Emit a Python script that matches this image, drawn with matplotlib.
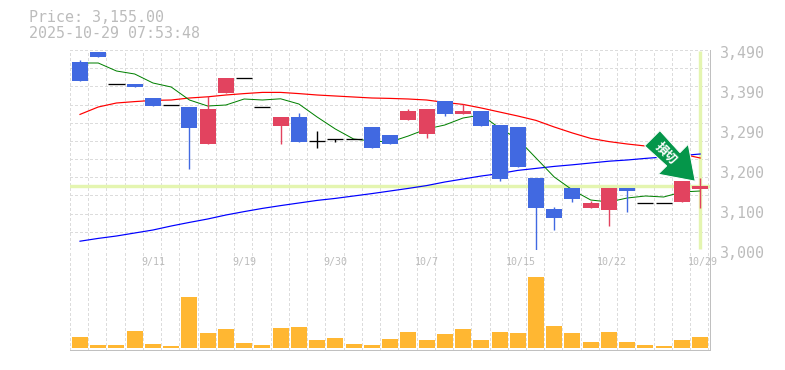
import numpy as np
import matplotlib
matplotlib.use("Agg")
import matplotlib.pyplot as plt
from matplotlib.patches import Polygon
from matplotlib.transforms import Affine2D

# Candles, one per session
opens = [3470, 3495, 3414, 3415, 3380, 3362, 3357.5, 3265, 3392.5, 3429, 3357, 3310,
         3332.5, 3272, 3277, 3277, 3307.5, 3287.5, 3325, 3290, 3372.5, 3340, 3347.5,
         3312.5, 3307.5, 3180, 3102.5, 3155, 3105, 3100, 3155, 3117, 3117, 3120, 3152.5]
closes = [3422.5, 3482.5, 3414, 3407.5, 3360, 3362, 3305, 3352.5, 3430, 3429, 3357, 3332.5,
          3270, 3272, 3277, 3277, 3255, 3265, 3347.5, 3352.5, 3340, 3347.5, 3310,
          3177.5, 3207.5, 3105, 3080, 3127.5, 3117.5, 3155, 3147.5, 3117, 3117, 3172, 3160]
highs = [3475, 3495, 3414, 3415, 3380, 3362, 3357.5, 3385, 3430, 3429, 3357, 3332.5,
         3342.5, 3298, 3277, 3277, 3307.5, 3287.5, 3352.5, 3352.5, 3372.5, 3365, 3347.5,
         3312.5, 3307.5, 3180, 3107.5, 3155, 3122.5, 3155, 3155, 3117, 3117, 3172, 3180]
lows = [3422.5, 3482.5, 3414, 3407.5, 3360, 3362, 3203, 3265, 3392.5, 3429, 3357, 3265,
        3270, 3255, 3270, 3277, 3255, 3265, 3325, 3280, 3335, 3340, 3310,
        3172.5, 3207.5, 3000, 3050, 3120, 3105, 3060, 3095, 3117, 3117, 3120, 3105]

# Moving averages
ma_short = [3467.5, 3467.5, 3447.5, 3440, 3417.5, 3407.5, 3375, 3360, 3362.5, 3377.5, 3375, 3378,
            3365, 3332.5, 3302.5, 3277.5, 3272.5, 3270, 3285, 3302.5, 3312.5, 3330, 3337.5,
            3305, 3277.5, 3230, 3182.5, 3150, 3125, 3120, 3130, 3135, 3132.5, 3145, 3147.5]
ma_mid = [3339, 3357.5, 3367.5, 3371, 3374, 3375, 3380, 3383, 3387.5, 3391, 3394, 3394,
          3391, 3387.5, 3385, 3382.5, 3380, 3379, 3377.5, 3375, 3369, 3364, 3355,
          3345, 3335, 3324, 3307.5, 3292.5, 3279, 3271, 3265, 3260, 3252.5, 3240, 3230]
ma_long = [3022, 3029, 3035, 3042.5, 3050, 3060, 3069, 3077.5, 3087.5, 3096, 3104, 3111,
           3117.5, 3124, 3129, 3135, 3141, 3147.5, 3154, 3161, 3170, 3177.5, 3185,
           3191, 3199, 3204, 3209, 3213, 3217.5, 3222, 3225, 3229, 3232.5, 3236, 3240]

volume = [11, 3, 3, 17, 4, 2, 51, 15, 19, 5, 3, 20, 21, 8, 10, 4, 3, 9,
          16, 8, 14, 19, 8, 16, 15, 71, 22, 15, 6, 16, 6, 3, 2, 8, 11]

date_pos = [4, 9, 14, 19, 24, 29, 34]
date_labels = ["9/11", "9/19", "9/30", "10/7", "10/15", "10/22", "10/29"]
price_ticks = [3000, 3100, 3200, 3300, 3400, 3500]
price_labels = ["3,000", "3,100", "3,200", "3,290", "3,390", "3,490"]
last_price = 3160
title_lines = ["Price: 3,155.00", "2025-10-29 07:53:48"]
arrow_text = "損切"

TXT = "#bcbcbc"
GRID = "#dcdcdc"
FRAME = "#c0c0c0"
MARK = "#e4f5b0"
UP = "#e2435f"
DOWN = "#4169e1"
PX = 0.72  # one pixel in points

fig = plt.figure(figsize=(7.85, 3.7), dpi=100)
ax = fig.add_axes([70 / 785, 120 / 370, 640 / 785, 200 / 370])
vol = fig.add_axes([70 / 785, 20 / 370, 640 / 785, 100 / 370])

x = np.arange(len(closes))
for a in (ax, vol):
    a.set_xlim(-0.548, 34.54)
    a.set_xticks([])
    a.set_yticks([])
    for side in ("top", "left"):
        a.spines[side].set_visible(False)
    for side in ("right", "bottom"):
        a.spines[side].set_color(FRAME)
        a.spines[side].set_linewidth(PX)
    for k in range(36):
        a.axvline(-0.548 + k, color=GRID, lw=0.8 * PX, ls=(0, (3, 3)), zorder=1, antialiased=False)

ax.set_ylim(3000, 3500)
for p in np.linspace(3000, 3500, 12):
    ax.axhline(p, color=GRID, lw=0.8 * PX, ls=(0, (3, 3)), zorder=1, antialiased=False)

# current price / current day markers
ax.axhline(last_price, color=MARK, lw=3.4 * PX, zorder=2)
ax.plot([34, 34], [3003, 3497], color=MARK, lw=3.4 * PX, zorder=2, solid_capstyle="butt")

ax.plot(x, ma_long, color="#0000ff", lw=1.2 * PX, zorder=3)
ax.plot(x, ma_mid, color="#ff0000", lw=1.2 * PX, zorder=3)
ax.plot(x, ma_short, color="#008000", lw=PX, zorder=3)

for i in x:
    o, c = opens[i], closes[i]
    if o == c:
        col = "black"
        ax.hlines(c, i - 0.44, i + 0.44, color=col, lw=1.3 * PX, zorder=4)
    else:
        col = UP if c > o else DOWN
        ax.bar(i, abs(c - o), bottom=min(o, c), width=0.877, color=col, zorder=4, linewidth=0)
    ax.vlines(i, lows[i], highs[i], color=col, lw=1.4 * PX, zorder=4)

# signal arrow, offsets in pixels from its tip
arrow_shape = [(-35.3, 50.6), (-50.6, 35.3), (-28.6, 15.3), (-37, 7), (0, 0), (-7, 37), (-15.3, 28.6)]
tip = ax.transData.transform((33.73, 3172))
arrow = Polygon(arrow_shape, closed=True, facecolor="#05964a", edgecolor="white", lw=PX,
                transform=Affine2D().translate(*tip), zorder=6, clip_on=False)
ax.add_patch(arrow)
ax.annotate(arrow_text, xy=(33.73, 3172), xytext=(-29.3, 27.3), textcoords="offset pixels",
            color="white", fontsize=9, fontweight="bold", rotation=-45, rotation_mode="anchor",
            ha="center", va="center", family=["Noto Sans CJK JP", "DejaVu Sans"], zorder=7)

vol.set_ylim(-2, 98)
vol.bar(x, volume, width=0.877, color="#ffb732", linewidth=0, zorder=2)

for p, lab in zip(price_ticks, price_labels):
    ax.annotate(lab, xy=(1, p), xycoords=("axes fraction", "data"), xytext=(10, -3),
                textcoords="offset pixels", color=TXT, fontsize=10.8,
                family="DejaVu Sans Mono", va="center", ha="left", annotation_clip=False)
for i, lab in zip(date_pos, date_labels):
    vol.annotate(lab, xy=(i, 1), xycoords=("data", "axes fraction"), xytext=(-12, -12),
                 textcoords="offset pixels", color=TXT, fontsize=7.2,
                 family="DejaVu Sans Mono", va="center", ha="left", annotation_clip=False, zorder=5)

fig.text(29 / 785, 1 - 18 / 370, title_lines[0], color=TXT, fontsize=10.8,
         family="DejaVu Sans Mono", va="center", ha="left")
fig.text(29 / 785, 1 - 33 / 370, title_lines[1], color=TXT, fontsize=10.8,
         family="DejaVu Sans Mono", va="center", ha="left")

fig.savefig("out.png", dpi=100)
